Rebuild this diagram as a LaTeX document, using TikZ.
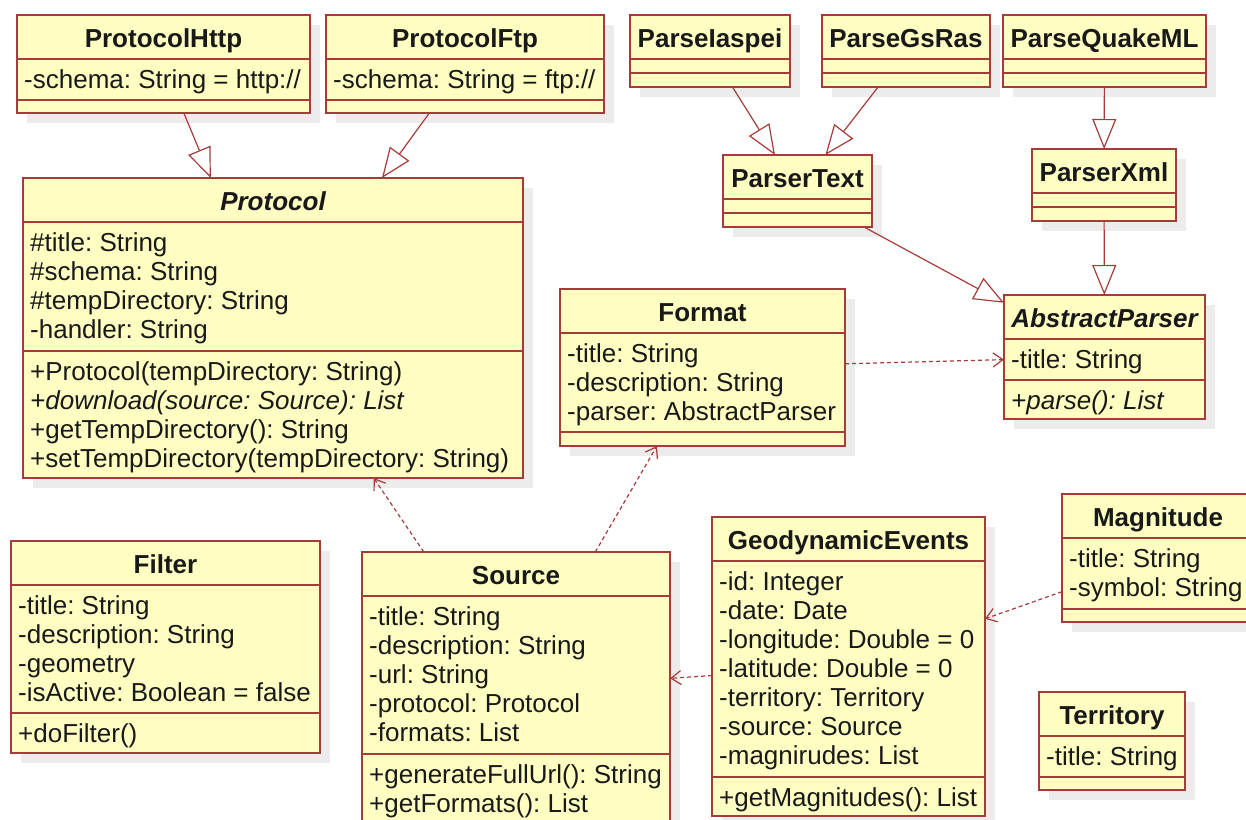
\documentclass[tikz,border=0pt]{standalone}
\usepackage{fontspec}
\setmainfont{Liberation Sans}
\usetikzlibrary{arrows.meta}
\frenchspacing

\definecolor{boxfill}{RGB}{254,254,194}
\definecolor{boxline}{RGB}{166,60,58}
\definecolor{dropgray}{RGB}{236,236,236}
\definecolor{ink}{RGB}{25,25,25}

\tikzset{
  classbox/.style={draw=boxline, fill=boxfill, line width=1.6pt, inner sep=0pt, outer sep=0pt, anchor=north west},
  divider/.style={draw=boxline, line width=1.6pt},
  dropshadow/.style={fill=dropgray},
  classtitle/.style={anchor=base, inner sep=0pt, text=ink, font=\fontsize{26}{29}\selectfont\bfseries},
  members/.style={anchor=north west, align=left, inner sep=0pt, text=ink, font=\fontsize{26}{29}\selectfont},
  generalization/.style={draw=boxline, line width=1.2pt, -{Triangle[open, length=30pt, width=24pt, fill=white]}},
  dependency/.style={draw=boxline, line width=1.2pt, dash pattern=on 4pt off 3pt, -{Straight Barb[length=10pt, width=14pt]}},
}

% class box: name, left, top, width, height (drop shadow first)
\newcommand{\umlclass}[5]{%
  \fill[dropshadow] (#2+10,#3+10) rectangle ++(#4,#5);
  \node[classbox, minimum width=#4pt, minimum height=#5pt] (#1) at (#2,#3) {};
}
% horizontal compartment divider at a depth below the top edge
\newcommand{\umlrule}[2]{%
  \draw[divider] ([yshift=-#2pt]#1.north west) -- ([yshift=-#2pt]#1.north east);
}

\begin{document}
\begin{tikzpicture}[x=1pt, y=-1pt]
\useasboundingbox (0,0) rectangle (1246,819);
\clip (0,0) rectangle (1246,819);

% ---------- protocols ----------
\umlclass{http}{17}{15}{293}{98}
\umlrule{http}{44}\umlrule{http}{85}
\node[classtitle] (http-t) at ([yshift=-32.5pt]http.north) {ProtocolHttp};
\node[members] (http-a) at ([xshift=7pt,yshift=-53.2pt]http.north west) {\strut-schema: String = http://};

\umlclass{ftp}{326}{15}{278}{98}
\umlrule{ftp}{44}\umlrule{ftp}{85}
\node[classtitle] (ftp-t) at ([yshift=-32.5pt]ftp.north) {ProtocolFtp};
\node[members] (ftp-a) at ([xshift=7pt,yshift=-53.2pt]ftp.north west) {\strut-schema: String = ftp://};

\umlclass{protocol}{23}{178}{500}{300}
\umlrule{protocol}{44}\umlrule{protocol}{173}
\node[classtitle] (protocol-t) at ([yshift=-32.5pt]protocol.north) {\itshape Protocol};
\node[members] (protocol-a) at ([xshift=7pt,yshift=-53.2pt]protocol.north west)
  {\strut\#title: String\\\#schema: String\\\#tempDirectory: String\\-handler: String};
\node[members] (protocol-m) at ([xshift=7pt,yshift=-182.2pt]protocol.north west)
  {\strut+Protocol(tempDirectory: String)\\\textit{+download(source: Source): List}\\+getTempDirectory(): String\\+setTempDirectory(tempDirectory: String)};

% ---------- parsers ----------
\umlclass{iaspei}{630}{15}{160}{72}
\umlrule{iaspei}{44}\umlrule{iaspei}{58}
\node[classtitle] (iaspei-t) at ([yshift=-32.5pt]iaspei.north) {ParseIaspei};

\umlclass{gsras}{822}{15}{168}{72}
\umlrule{gsras}{44}\umlrule{gsras}{58}
\node[classtitle] (gsras-t) at ([yshift=-32.5pt]gsras.north) {ParseGsRas};

\umlclass{quakeml}{1003}{15}{203}{72}
\umlrule{quakeml}{44}\umlrule{quakeml}{58}
\node[classtitle] (quakeml-t) at ([yshift=-32.5pt]quakeml.north) {ParseQuakeML};

\umlclass{ptext}{723}{155}{149}{72}
\umlrule{ptext}{44}\umlrule{ptext}{58}
\node[classtitle] (ptext-t) at ([yshift=-32.5pt]ptext.north) {ParserText};

\umlclass{pxml}{1032}{149}{144}{72}
\umlrule{pxml}{44}\umlrule{pxml}{58}
\node[classtitle] (pxml-t) at ([yshift=-32.5pt]pxml.north) {ParserXml};

\umlclass{aparser}{1004}{295}{201}{124}
\umlrule{aparser}{44}\umlrule{aparser}{85}
\node[classtitle] (aparser-t) at ([yshift=-32.5pt]aparser.north) {\itshape AbstractParser};
\node[members] (aparser-a) at ([xshift=7pt,yshift=-53.2pt]aparser.north west) {\strut-title: String};
\node[members] (aparser-m) at ([xshift=7pt,yshift=-94.2pt]aparser.north west) {\strut\textit{+parse(): List}};

\umlclass{format}{560}{289}{285}{157}
\umlrule{format}{44}\umlrule{format}{143}
\node[classtitle] (format-t) at ([yshift=-32.5pt]format.north) {Format};
\node[members] (format-a) at ([xshift=7pt,yshift=-53.2pt]format.north west)
  {\strut-title: String\\-description: String\\-parser: AbstractParser};

% ---------- lower row ----------
\umlclass{filter}{11}{541}{309}{212}
\umlrule{filter}{44}\umlrule{filter}{172}
\node[classtitle] (filter-t) at ([yshift=-32.5pt]filter.north) {Filter};
\node[members] (filter-a) at ([xshift=7pt,yshift=-53.2pt]filter.north west)
  {\strut-title: String\\-description: String\\-geometry\\-isActive: Boolean = false};
\node[members] (filter-m) at ([xshift=7pt,yshift=-181.2pt]filter.north west) {\strut+doFilter()};

\umlclass{source}{362}{552}{308}{273}
\umlrule{source}{44}\umlrule{source}{202}
\node[classtitle] (source-t) at ([yshift=-32.5pt]source.north) {Source};
\node[members] (source-a) at ([xshift=7pt,yshift=-53.2pt]source.north west)
  {\strut-title: String\\-description: String\\-url: String\\-protocol: Protocol\\-formats: List};
\node[members] (source-m) at ([xshift=7pt,yshift=-211.2pt]source.north west)
  {\strut+generateFullUrl(): String\\+getFormats(): List};

\umlclass{geo}{712}{517}{273}{299}
\umlrule{geo}{44}\umlrule{geo}{260}
\node[classtitle] (geo-t) at ([yshift=-32.5pt]geo.north) {GeodynamicEvents};
\node[members] (geo-a) at ([xshift=7pt,yshift=-53.2pt]geo.north west)
  {\strut-id: Integer\\-date: Date\\-longitude: Double = 0\\-latitude: Double = 0\\-territory: Territory\\-source: Source\\-magnirudes: List};
\node[members] (geo-m) at ([xshift=7pt,yshift=-269.2pt]geo.north west) {\strut+getMagnitudes(): List};

\umlclass{magnitude}{1062}{494}{192}{128}
\umlrule{magnitude}{44}\umlrule{magnitude}{115}
\node[classtitle] (magnitude-t) at ([yshift=-32.5pt]magnitude.north) {Magnitude};
\node[members] (magnitude-a) at ([xshift=7pt,yshift=-53.2pt]magnitude.north west)
  {\strut-title: String\\-symbol: String};

\umlclass{territory}{1039}{692}{146}{98}
\umlrule{territory}{44}\umlrule{territory}{85}
\node[classtitle] (territory-t) at ([yshift=-32.5pt]territory.north) {Territory};
\node[members] (territory-a) at ([xshift=7pt,yshift=-53.2pt]territory.north west) {\strut-title: String};

% ---------- relations ----------
\draw[generalization] (http) -- (protocol);
\draw[generalization] (ftp) -- (protocol);
\draw[generalization] (iaspei) -- (ptext);
\draw[generalization] (gsras) -- (ptext);
\draw[generalization] (quakeml) -- (pxml);
\draw[generalization] (ptext) -- (aparser);
\draw[generalization] (pxml) -- (aparser);
\draw[dependency] (format) -- (aparser);
\draw[dependency] (source) -- (protocol);
\draw[dependency] (source) -- (format);
\draw[dependency] (geo) -- (source);
\draw[dependency] (magnitude) -- (geo);
\end{tikzpicture}
\end{document}
